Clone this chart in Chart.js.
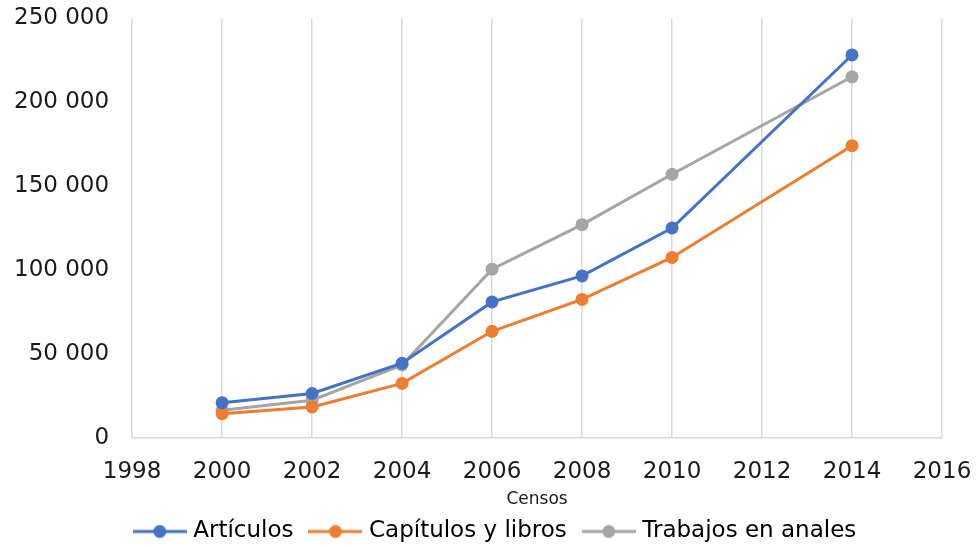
<!DOCTYPE html>
<html>
<head>
<meta charset="utf-8">
<script src="https://cdn.jsdelivr.net/npm/chart.js@4/dist/chart.umd.min.js"></script>
<style>
  html, body { margin: 0; padding: 0; background: #fff; }
  #wrap { width: 976px; height: 546px; position: relative; }
</style>
</head>
<body>
<div id="wrap"><canvas id="myChart"></canvas></div>
<script>
// Chart data
const years = [2000, 2002, 2004, 2006, 2008, 2010, 2014];
const articulos = [21000, 26500, 44500, 81000, 96500, 125000, 228000];
const capitulos = [14500, 18500, 32500, 63500, 82500, 107500, 174000];
const trabajos = [16500, 22500, 43500, 100500, 127000, 157000, 215000];
const seriesNames = ["Artículos", "Capítulos y libros", "Trabajos en anales"];
const seriesColors = ["#4472C4", "#ED7D31", "#A5A5A5"];

const FONT = "'DejaVu Sans', Verdana, sans-serif";

// legend marker: short line with a dot in the middle
function legendMarker(color) {
  const c = document.createElement("canvas");
  c.width = 54;
  c.height = 16;
  const g = c.getContext("2d");
  g.strokeStyle = color;
  g.lineWidth = 3;
  g.beginPath();
  g.moveTo(0, 8);
  g.lineTo(54, 8);
  g.stroke();
  g.fillStyle = color;
  g.beginPath();
  g.arc(27, 8, 6.5, 0, Math.PI * 2);
  g.fill();
  return c;
}

function toPoints(values) {
  return years.map((yr, i) => ({ x: yr, y: values[i] }));
}

function fmt(v) {
  return v.toString().replace(/\B(?=(\d{3})+(?!\d))/g, " ");
}

const allValues = [articulos, capitulos, trabajos];
const markers = seriesColors.map(legendMarker);

// nudge the legend a bit to the right, as in the original
const legendShift = {
  id: "legendShift",
  afterLayout(chart) {
    if (chart.legend) {
      chart.legend.left += 20;
      chart.legend.right += 20;
    }
  },
};

const ctx = document.getElementById("myChart").getContext("2d");
new Chart(ctx, {
  type: "line",
  data: {
    datasets: allValues.map((vals, i) => ({
      label: seriesNames[i],
      data: toPoints(vals),
      borderColor: seriesColors[i],
      backgroundColor: seriesColors[i],
      borderWidth: 3,
      pointStyle: "circle",
      pointRadius: 6.5,
      pointHoverRadius: 6.5,
      pointBorderWidth: 0,
      tension: 0,
    })),
  },
  options: {
    responsive: true,
    maintainAspectRatio: false,
    animation: false,
    layout: { padding: { left: 12, right: 34, top: 18, bottom: -7 } },
    scales: {
      x: {
        type: "linear",
        min: 1998,
        max: 2016,
        ticks: {
          stepSize: 2,
          padding: 2,
          maxRotation: 0,
          color: "#1a1a1a",
          font: { family: FONT, size: 23 },
          callback: (v) => v.toString(),
        },
        grid: {
          color: "#d9d9d9",
          lineWidth: 1.5,
          drawTicks: true,
          tickLength: 18,
          tickColor: "rgba(0,0,0,0)",
        },
        border: { display: true, color: "#d9d9d9", width: 1.5 },
        title: {
          display: true,
          text: "Censos",
          color: "#1a1a1a",
          font: { family: FONT, size: 17 },
          padding: { top: 2, bottom: -10 },
        },
      },
      y: {
        min: 0,
        max: 250000,
        ticks: {
          stepSize: 50000,
          padding: 2,
          color: "#1a1a1a",
          font: { family: FONT, size: 23 },
          callback: (v) => fmt(v),
        },
        grid: {
          display: false,
          drawTicks: true,
          tickLength: 21,
          tickColor: "rgba(0,0,0,0)",
        },
        border: { display: false },
      },
    },
    plugins: {
      legend: {
        position: "bottom",
        labels: {
          usePointStyle: true,
          pointStyleWidth: 44,
          padding: 20,
          color: "#1a1a1a",
          font: { family: FONT, size: 23 },
          generateLabels: (chart) =>
            chart.data.datasets.map((ds, i) => ({
              text: ds.label,
              pointStyle: markers[i],
              fillStyle: seriesColors[i],
              strokeStyle: seriesColors[i],
              lineWidth: 0,
              hidden: false,
              datasetIndex: i,
            })),
        },
      },
      tooltip: { enabled: false },
    },
  },
  plugins: [legendShift],
});
</script>
</body>
</html>
